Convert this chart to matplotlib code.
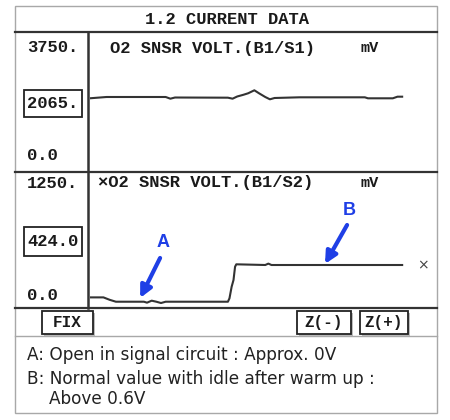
import matplotlib
matplotlib.use("Agg")
import matplotlib.pyplot as plt
from matplotlib.patches import Rectangle

# ---- data -------------------------------------------------------------
title = "1.2 CURRENT DATA"

s1_name = "O2 SNSR VOLT.(B1/S1)"
s1_unit = "mV"
s1_max, s1_min, s1_now = "3750.", "0.0", "2065."
s1_t = [0, 5, 24, 25.5, 27, 44, 45.5, 47, 49, 50.5, 52.5, 54, 56, 57.5, 59,
        67, 88, 89, 97, 98.5, 100]
s1_mv = [2030, 2065, 2065, 2016, 2050, 2045, 2016, 2080, 2130, 2173, 2260,
         2173, 2065, 1998, 2036, 2056, 2056, 2027, 2027, 2074, 2074]

s2_name = "×O2 SNSR VOLT.(B1/S2)"
s2_unit = "mV"
s2_max, s2_min, s2_now = "1250.", "0.0", "424.0"
s2_t = [0, 4, 6, 8, 17, 18, 19.5, 21, 22.5, 24, 44, 44.5, 45.2, 45.8, 46.3,
        46.7, 56, 57, 58, 100]
s2_mv = [50, 50, 22, 0, 0, -11, 12, 0, -15, 0, 0, 39, 173, 251, 404, 432,
         424, 440, 424, 424]

buttons = ["FIX", "Z(-)", "Z(+)"]
notes = ["A: Open in signal circuit : Approx. 0V",
         "B: Normal value with idle after warm up :",
         "Above 0.6V"]

# ---- figure -----------------------------------------------------------
W, H = 450, 420
fig = plt.figure(figsize=(W / 100, H / 100), dpi=100)
fig.patch.set_facecolor("white")

# frame layer in pixel units (y down)
fr = fig.add_axes([0, 0, 1, 1])
fr.set_xlim(0, W)
fr.set_ylim(H, 0)
fr.axis("off")

mono = dict(family="Liberation Mono", weight="bold", color="#1a1a1a")
dark = "#333333"
grey = "#a8a8a8"

# outer border
fr.add_patch(Rectangle((15, 6), 422, 407, fill=False, ec=grey, lw=1.0))
# separators
fr.plot([15, 437], [32, 32], color=dark, lw=1.6)
fr.plot([15, 437], [172, 172], color=dark, lw=1.6)
fr.plot([15, 437], [307.5, 307.5], color=dark, lw=1.6)
fr.plot([15, 437], [336, 336], color=grey, lw=1.0)
fr.plot([88, 88], [32, 307.5], color=dark, lw=1.8)

fr.text(227, 20, title, ha="center", va="center", fontsize=12.3, **mono)

# scale labels
fr.text(27, 48, s1_max, ha="left", va="center", fontsize=12.3, **mono)
fr.text(27, 156, s1_min, ha="left", va="center", fontsize=12.3, **mono)
fr.text(27, 183, s2_max, ha="left", va="center", fontsize=12.3, **mono)
fr.text(27, 295, s2_min, ha="left", va="center", fontsize=12.3, **mono)

# current value boxes
fr.add_patch(Rectangle((24, 90), 58, 27, fill=False, ec="#222222", lw=1.3))
fr.text(53, 103.5, s1_now, ha="center", va="center", fontsize=12.3, **mono)
fr.add_patch(Rectangle((24, 227), 58, 29, fill=False, ec="#222222", lw=1.3))
fr.text(53, 241.5, s2_now, ha="center", va="center", fontsize=12.3, **mono)

# channel titles
fr.text(110, 48, s1_name, ha="left", va="center", fontsize=12.3, **mono)
fr.text(361, 48, s1_unit, ha="left", va="center", fontsize=11, **mono)
fr.text(98, 183, s2_name, ha="left", va="center", fontsize=12.3, **mono)
fr.text(361, 183, s2_unit, ha="left", va="center", fontsize=11, **mono)

# soft-key buttons
for (x0, x1), lab in zip([(42, 93), (297, 351), (360, 408)], buttons):
    fr.add_patch(Rectangle((x0 + 1.5, 312.5), x1 - x0, 23, fc="#bdbdbd",
                           ec="none"))
    fr.add_patch(Rectangle((x0, 311), x1 - x0, 23, fc="white", ec="#222222",
                           lw=1.3))
    fr.text((x0 + x1) / 2, 322.5, lab, ha="center", va="center",
            fontsize=11.5, **mono)

# notes
for x, y, line in zip([27, 27, 49], [355, 379, 399], notes):
    fr.text(x, y, line, ha="left", va="center", fontsize=12.2,
            family="DejaVu Sans", color="#222222")

# ---- trace axes -------------------------------------------------------
xlim = (-0.965, 111.2)


def trace_axes(top, bottom):
    ax = fig.add_axes([88 / W, 1 - bottom / H, 349 / W, (bottom - top) / H])
    ax.set_xlim(*xlim)
    ax.axis("off")
    ax.patch.set_alpha(0)
    return ax


ax1 = trace_axes(32, 172)
ax1.set_ylim(-116, 3955)
ax1.plot(s1_t, s1_mv, color=dark, lw=1.5, solid_joinstyle="round")

ax2 = trace_axes(172, 307)
ax2.set_ylim(-61, 1498)
ax2.plot(s2_t, s2_mv, color=dark, lw=1.5, solid_joinstyle="round")
ax2.text(106.7, s2_mv[-1], "×", ha="center", va="center", fontsize=10,
         family="DejaVu Sans", color="#444444", clip_on=False)

# callouts
blue = "#1f3fe6"
arrow = dict(arrowstyle="-|>,head_length=0.7,head_width=0.35", color=blue,
             lw=3.0, shrinkA=0, shrinkB=0)
ax2.annotate("", xy=(15.8, 43), xytext=(22.2, 505), arrowprops=arrow)
ax2.text(23.2, 680, "A", ha="center", va="center", fontsize=13,
         weight="bold", family="Liberation Sans", color=blue)
ax2.annotate("", xy=(75.2, 436), xytext=(82.3, 886), arrowprops=arrow)
ax2.text(83.0, 1050, "B", ha="center", va="center", fontsize=13,
         weight="bold", family="Liberation Sans", color=blue)

fig.savefig("out.png", dpi=100, facecolor="white")
